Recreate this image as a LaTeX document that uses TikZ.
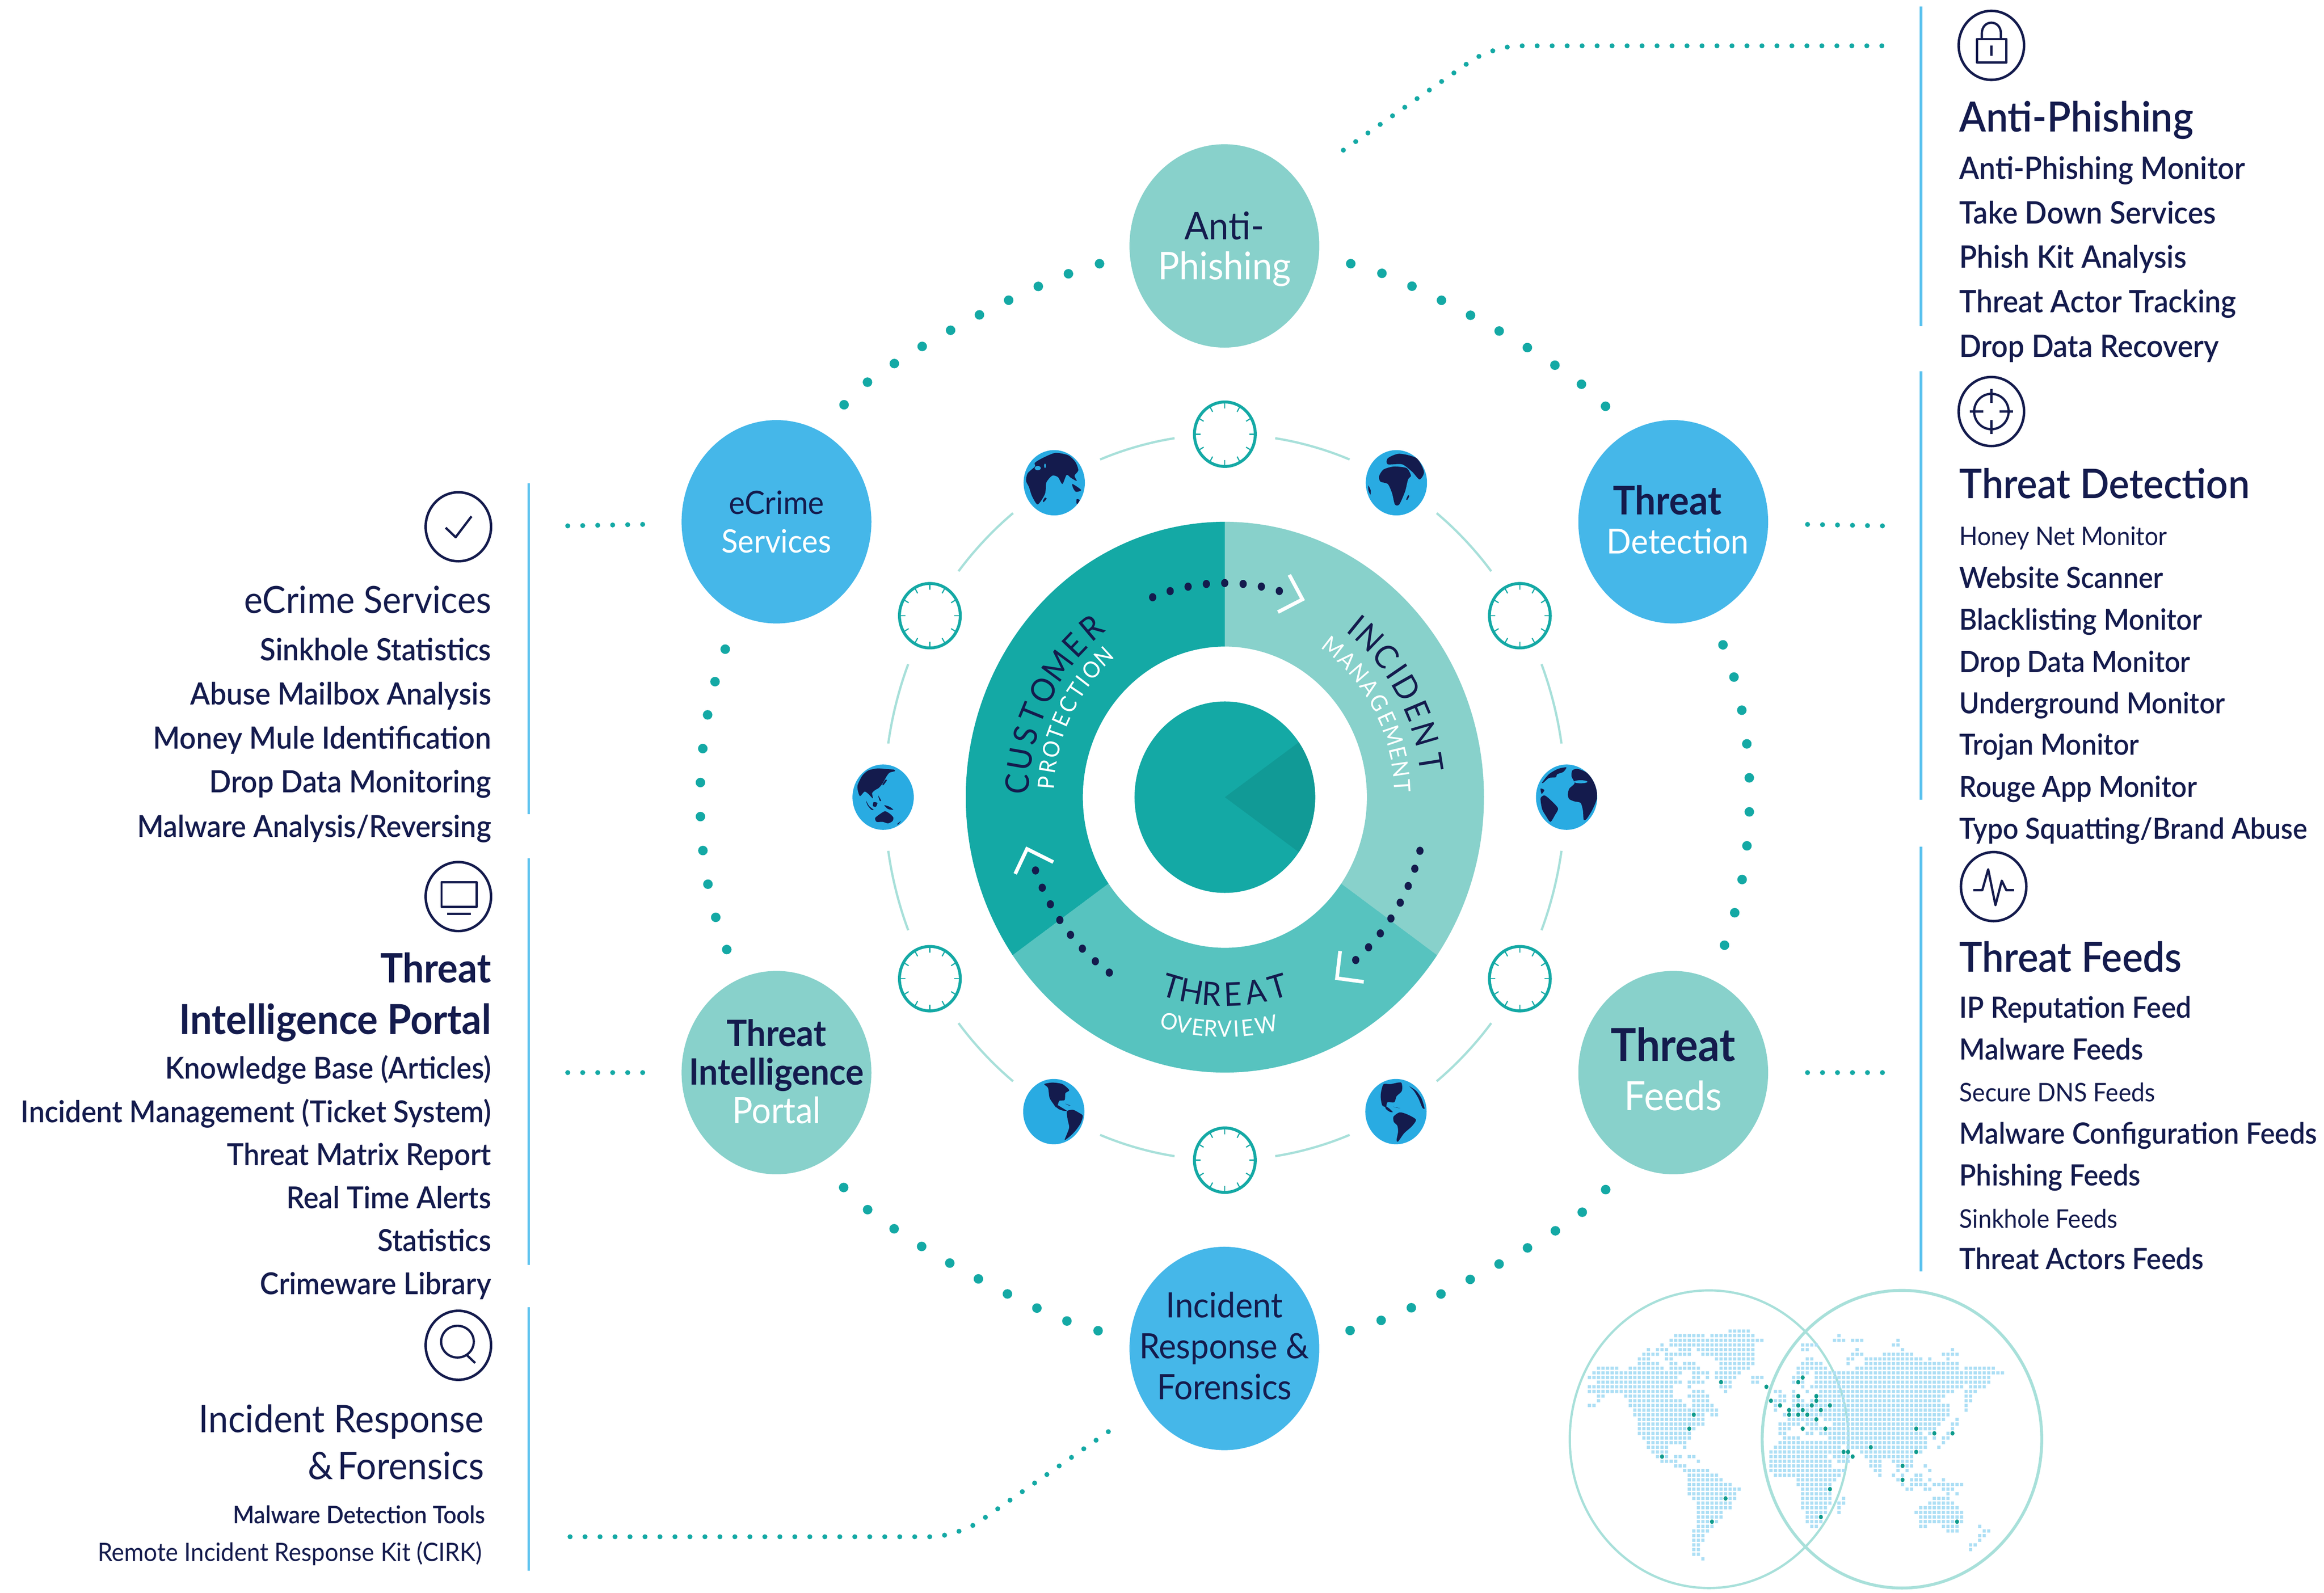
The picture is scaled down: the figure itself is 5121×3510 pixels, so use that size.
\documentclass[tikz,border=0pt]{standalone}
\usepackage{fontspec}
\setmainfont[FakeStretch=0.94,BoldFont={Lato Bold}]{Lato}
\newfontfamily\med[FakeStretch=0.94]{Lato Semibold}
\usetikzlibrary{shapes.geometric}
\definecolor{navy}{HTML}{141B4D}
\definecolor{nblue}{HTML}{45B7E9}
\definecolor{nteal}{HTML}{88D1CB}
\definecolor{segA}{HTML}{14A9A5}
\definecolor{segB}{HTML}{88D1CB}
\definecolor{segC}{HTML}{57C3BF}
\definecolor{wedge}{HTML}{119A96}
\definecolor{barblue}{HTML}{5BC2EF}
\definecolor{pale}{HTML}{A8E0DA}
\definecolor{gblue}{HTML}{29ABE2}
\definecolor{mapdot}{HTML}{ADDFF5}
\definecolor{mapdark}{HTML}{0E9B8C}
\newcommand\fpx[1]{\fontsize{\fpeval{round(#1*.2845,2)}pt}{\fpeval{round(#1*.2845*1.16,2)}pt}\selectfont}
\newcommand\fpl[2]{\fontsize{\fpeval{round(#1*.2845,2)}pt}{\fpeval{round(#2*.2845,2)}pt}\selectfont}
\newcommand\lift[1]{\rule[-#1]{0pt}{#1}}
\newcommand\globeat[3]{%
 \begin{scope}[shift={(#1,#2)}]
 \fill[gblue] (0,0) ellipse [x radius=67.5,y radius=72];
 \begin{scope}
 \clip (0,0) ellipse [x radius=67.5,y radius=72];
 \begin{scope}[xscale=.3333,yscale=.3333]
 #3
 \end{scope}
 \end{scope}
 \end{scope}}
\newcommand\landmass[1]{\fill[navy] plot[smooth cycle,tension=.45] coordinates {#1};}
\newcommand\clockat[3]{%
 \node[clockface] (#1) at (#2,#3) {};
 \foreach \t in {0,30,...,330}
   \draw[segA,line width=.025cm] ({#2+67*cos(\t)},{#3+71*sin(\t)}) -- ({#2+54*cos(\t)},{#3+57*sin(\t)});}
\tikzset{
 x=.01cm,y=-.01cm,
 mainnode/.style={ellipse,minimum width=4.18cm,minimum height=4.48cm,inner sep=-1cm,align=center,text=navy},
 clockface/.style={ellipse,draw=segA,fill=white,line width=.065cm,minimum width=1.34cm,minimum height=1.42cm,inner sep=0pt},
 iconring/.style={ellipse,draw=navy,line width=.055cm,minimum width=1.44cm,minimum height=1.52cm,inner sep=0pt},
 glyph/.style={draw=navy,line width=.05cm,line join=round},
 tl/.style={anchor=base west,inner sep=0pt,text=navy,yshift=-.03cm},
 tr/.style={anchor=base east,inner sep=0pt,text=navy,yshift=-.03cm},
 bigdots/.style={draw=segA,line width=.21cm,line cap=round,dash pattern=on 0cm off .72cm},
 sidedots/.style={draw=segA,line width=.21cm,line cap=round,dash pattern=on 0cm off .75cm},
 finedots/.style={draw=segA,line width=.11cm,line cap=round,dash pattern=on 0cm off .33cm},
 bar/.style={draw=barblue,line width=.055cm},
 chev/.style={draw=white,line width=.08cm,line join=miter},
 thinarc/.style={draw=pale,line width=.05cm},
 ringbig/.style={inner sep=0pt,text=navy,font=\fpx{72}},
 ringsmall/.style={inner sep=0pt,text=white,font=\fpx{50}},
}
\begin{document}
\begin{tikzpicture}
\path[use as bounding box,fill=white] (0,0) rectangle (5121,3510);
\def\cx{2699}\def\cy{1757}
% ring segments
\fill[segB] plot[domain=270:395,samples=90] ({\cx+571*cos(\x)},{\cy+607*sin(\x)}) -- plot[domain=395:270,samples=90] ({\cx+313*cos(\x)},{\cy+332*sin(\x)}) -- cycle;
\fill[segC] plot[domain=35:145,samples=90] ({\cx+571*cos(\x)},{\cy+607*sin(\x)}) -- plot[domain=145:35,samples=90] ({\cx+313*cos(\x)},{\cy+332*sin(\x)}) -- cycle;
\fill[segA] plot[domain=145:270,samples=90] ({\cx+571*cos(\x)},{\cy+607*sin(\x)}) -- plot[domain=270:145,samples=90] ({\cx+313*cos(\x)},{\cy+332*sin(\x)}) -- cycle;
\fill[segA] (\cx,\cy) ellipse [x radius=199,y radius=211];
\fill[wedge] (\cx,\cy) -- plot[domain=-35:35,samples=30] ({\cx+199*cos(\x)},{\cy+211*sin(\x)}) -- cycle;
% curved words
\foreach \c/\a [count=\i] in {C/183.5,U/190,S/196.3,T/202.3,O/209,M/216.5,E/223.5,R/230}
  \node[ringbig,rotate=270-\a] (cust\i) at ({\cx+458*cos(\a)},{\cy+487*sin(\a)}) {\c};
\foreach \c/\a [count=\i] in {P/184.3,R/189.3,O/194.6,T/199.6,E/204,C/209,T/214,I/217.6,O/222,N/227.5}
  \node[ringsmall,rotate=270-\a] (prot\i) at ({\cx+395*cos(\a)},{\cy+420*sin(\a)}) {\c};
\foreach \c/\a [count=\i] in {I/309,N/314,C/320.5,I/325.5,D/330.5,E/337,N/343.5,T/351}
  \node[ringbig,rotate=270-\a] (inci\i) at ({\cx+460*cos(\a)},{\cy+489*sin(\a)}) {\c};
\foreach \c/\a [count=\i] in {M/307.5,A/313.5,N/319,A/324.5,G/330,E/335.5,M/341,E/346.5,N/351.5,T/356.5}
  \node[ringsmall,rotate=270-\a] (mana\i) at ({\cx+392*cos(\a)},{\cy+417*sin(\a)}) {\c};
\foreach \c/\a [count=\i] in {T/106.5,H/100.3,R/94,E/87.5,A/80.5,T/73.5}
  \node[ringbig,rotate=90-\a] (thre\i) at ({\cx+410*cos(\a)},{\cy+435*sin(\a)}) {\c};
\foreach \c/\a [count=\i] in {O/104.8,V/100.8,E/97,R/93.7,V/90,I/87,E/84,W/79}
  \node[ringsmall,rotate=90-\a] (over\i) at ({\cx+480*cos(\a)},{\cy+511*sin(\a)}) {\c};
% dotted arcs in ring
\foreach \st in {249,254.24,...,286} \fill[navy] ({\cx+444*cos(\st)},{\cy+472*sin(\st)}) ellipse [x radius=8,y radius=9];
\foreach \st in {14.5,19.5,...,50} \fill[navy] ({\cx+444*cos(\st)},{\cy+472*sin(\st)}) ellipse [x radius=8,y radius=9];
\foreach \st in {125,130,...,160.5} \fill[navy] ({\cx+444*cos(\st)},{\cy+472*sin(\st)}) ellipse [x radius=8,y radius=9];
\draw[chev] (\cx+142,\cy-490) -- (\cx+171,\cy-436) -- (\cx+117,\cy-408);
\draw[chev] (\cx+254,\cy+339) -- (\cx+247,\cy+399) -- (\cx+306,\cy+407);
\draw[chev] (\cx-378,\cy+143) -- (\cx-436,\cy+114) -- (\cx-462,\cy+169);
% thin arcs
\foreach \k in {0,30,...,330}
  \draw[thinarc] plot[domain=\k+8.5:\k+21.5,samples=12] ({\cx+750*cos(\x)},{\cy+800*sin(\x)});
% clocks
\clockat{ck1}{2699}{957}
\clockat{ck2}{3349}{1357}
\clockat{ck3}{3349}{2157}
\clockat{ck4}{2699}{2557}
\clockat{ck5}{2049}{2157}
\clockat{ck6}{2049}{1357}
% globes
\globeat{2323}{1064}{% Eurasia + Africa
 \landmass{(-186,-12) (-176,-62) (-128,-107) (-128,-132) (-80,-162) (6,-197) (92,-182) (140,-137) (159,-82) (134,-47) (149,-12) (111,-32) (82,-52) (54,8) (25,-37) (-13,-47) (-52,-2) (-61,73) (-109,143) (-147,88) (-167,28)}
 \landmass{(121,8) (178,48) (144,60) (125,35)}
 \landmass{(149,108) (168,115) (155,140) (147,135)}
 \landmass{(-61,98) (-50,105) (-70,128) (-75,120)}
 \fill[gblue] (-109,-97) ellipse [x radius=20,y radius=14];
 \fill[gblue] (-61,-112) ellipse [x radius=6,y radius=15];}
\globeat{3077}{1064}{% Africa + Europe
 \landmass{(-115,-42) (-86,-87) (-19,-107) (67,-97) (96,-47) (77,-22) (57,58) (19,143) (-10,143) (-29,68) (-57,8) (-105,-7)}
 \landmass{(-57,-162) (19,-192) (134,-162) (182,-72) (153,-22) (105,-72) (38,-122) (-57,-122)}
 \landmass{(77,83) (85,88) (72,113) (65,110)}
 \landmass{(-186,18) (-170,50) (-172,78) (-185,50)}}
\globeat{1946}{1757}{% Asia + Australia
 \landmass{(-168,-82) (-138,-142) (-98,-177) (-38,-190) (12,-187) (72,-182) (77,-172) (42,-162) (22,-137) (-3,-92) (-28,-62) (-53,-47) (-73,-27) (-68,8) (-98,-22) (-123,-37) (-153,-7) (-168,-47)}
 \landmass{(17,-117) (24,-110) (2,-80) (-5,-84)}
 \landmass{(-113,23) (-93,58) (-63,83) (-78,83) (-103,53)}
 \landmass{(-63,33) (-38,38) (-48,63) (-68,58)}
 \landmass{(-33,-12) (-13,23) (-23,23)}
 \landmass{(7,53) (42,63) (67,83) (32,78)}
 \landmass{(-53,138) (-23,113) (12,93) (42,108) (67,133) (62,158) (32,173) (-3,163) (-43,163)}
 \landmass{(92,178) (117,158) (100,180)}}
\globeat{3452}{1757}{% Atlantic
 \landmass{(-162,-97) (-117,-152) (-57,-187) (-2,-197) (-22,-167) (-62,-152) (-72,-132) (-117,-127) (-152,-97)}
 \landmass{(-172,-57) (-165,-22) (-147,-47)}
 \landmass{(-172,8) (-147,-12) (-112,13) (-57,73) (-77,118) (-107,163) (-137,123) (-162,78)}
 \landmass{(33,-137) (38,-177) (73,-187) (133,-162) (193,-92) (203,-2) (173,78) (133,143) (113,148) (108,88) (93,38) (53,28) (18,13) (8,-17) (18,-57) (53,-92)}
 \fill[gblue] (93,-102) ellipse [x radius=45,y radius=10];}
\globeat{2322}{2450}{% Americas
 \landmass{(-63,-182) (-8,-192) (57,-182) (102,-142) (77,-122) (72,-77) (37,-72) (29,-52) (17,-27) (-3,-52) (-28,-92) (-38,-157)}
 \landmass{(7,-42) (27,-42) (52,-27) (87,-5) (67,-5) (32,-17)}
 \landmass{(87,-2) (127,-12) (167,8) (192,28) (177,78) (142,128) (107,163) (72,188) (87,148) (102,103) (92,53)}
 \landmass{(77,-52) (112,-39) (97,-42)}}
\globeat{3076}{2450}{% Americas + Europe edge
 \landmass{(-81,-182) (-36,-182) (34,-192) (39,-137) (4,-102) (-11,-62) (-56,-62) (-66,-32) (-91,-42) (-101,-97) (-96,-142)}
 \landmass{(-71,-37) (-46,-22) (-21,3) (-41,1) (-66,-17)}
 \landmass{(-16,33) (24,5) (74,18) (132,53) (104,98) (54,143) (14,198) (4,188) (14,133) (9,93) (-14,68)}
 \landmass{(89,-167) (134,-137) (169,-87) (189,-22) (174,-27) (149,-87) (119,-137)}
 \landmass{(-16,-32) (29,-22) (5,-26)}}
% main nodes
\node[mainnode,fill=nteal,font=\fpl{84}{88}] (anti) at (2698,542) {\rule{0pt}{.76cm}Anti-\\\textcolor{white}{Phishing}};
\node[mainnode,fill=nblue,font=\fpl{71}{85}] (ecrime) at (1711,1150) {eCrime\\\textcolor{white}{Services}};
\node[mainnode,fill=nblue,font=\fpl{76}{86}] (tdet) at (3687,1150) {{\fpx{87}\bfseries Threat}\hspace*{.26cm}\\\hspace*{.2cm}\textcolor{white}{Detection}\lift{.1cm}};
\node[mainnode,fill=nteal,font=\fpl{80}{85}] (tint) at (1711,2364) {{\bfseries Threat}\\{\bfseries Intelligence}\\\textcolor{white}{Portal}\lift{.06cm}};
\node[mainnode,fill=nteal,font=\fpl{89}{108}] (tfeeds) at (3687,2364) {{\fpx{100}\bfseries Threat}\\\textcolor{white}{Feeds}\lift{.16cm}};
\node[mainnode,fill=nblue,font=\fpl{77}{90}] (incident) at (2698,2972) {Incident\\Response \&\\Forensics\lift{.12cm}};
% big dotted connectors
\draw[bigdots,shorten <=.77cm,shorten >=.55cm] (ecrime) to[out=60,in=188,looseness=.55] (anti);
\draw[bigdots,shorten <=.71cm,shorten >=.55cm] (anti) to[out=-8,in=120,looseness=.55] (tdet);
\draw[sidedots,shorten <=.7cm,shorten >=.55cm] (tdet) to[out=-68,in=68,looseness=.9] (tfeeds);
\draw[bigdots,shorten <=.77cm,shorten >=.55cm] (tfeeds) to[out=-120,in=8,looseness=.55] (incident);
\draw[bigdots,shorten <=.71cm,shorten >=.55cm] (incident) to[out=172,in=-60,looseness=.55] (tint);
\draw[sidedots,shorten <=.7cm,shorten >=.55cm] (tint) to[out=112,in=-112,looseness=.9] (ecrime);
% fine dotted connectors
\coordinate (lec) at (1251,1159);
\coordinate (lti) at (1251,2364);
\coordinate (rtd) at (4148,1159);
\coordinate (rtf) at (4148,2364);
\coordinate (apc) at (3289,101);
\coordinate (ape) at (4155,101);
\coordinate (irc) at (2110,3387);
\coordinate (ire) at (1244,3387);
\draw[finedots,shorten >=.8cm] (lec) -- (ecrime);
\draw[finedots,shorten >=.8cm] (lti) -- (tint);
\draw[finedots,shorten >=.8cm] (rtd) -- (tdet);
\draw[finedots,shorten >=.8cm] (rtf) -- (tfeeds);
\draw[finedots,shorten <=1.21cm,rounded corners=.6cm] (anti.41) -- (apc) -- (ape);
\draw[finedots,shorten <=1cm,rounded corners=.6cm] (incident.216) -- (irc) -- (ire);
% bars
\draw[bar] (4233,14) -- (4233,719);
\draw[bar] (4233,818) -- (4233,1763);
\draw[bar] (4233,1866) -- (4233,2802);
\draw[bar] (1165,1065) -- (1165,1794);
\draw[bar] (1165,1892) -- (1165,2788);
\draw[bar] (1165,2881) -- (1165,3462);
% right column
\node[iconring] (iLock) at (4388,100) {};
\draw[glyph] (4356,86) rectangle (4421,138);
\draw[glyph] (4367,86) -- (4367,74) .. controls (4367,42) and (4409,42) .. (4409,74) -- (4409,86);
\draw[glyph] (4388,100) -- (4388,123);
\node[iconring] (iCross) at (4388,907) {};
\draw[glyph] (4388,907) ellipse [x radius=38,y radius=39];
\draw[glyph] (4388,857) -- (4388,888) (4388,926) -- (4388,957) (4340,907) -- (4370,907) (4406,907) -- (4436,907);
\node[iconring] (iPulse) at (4393,1954) {};
\draw[glyph] (4348,1962) -- (4368,1962) -- (4381,1916) -- (4397,1995) -- (4411,1941) -- (4421,1962) -- (4438,1962);
\node[tl,font=\fpx{91.5}\med] (h1) at (4317,287) {Anti-Phishing};
\foreach \t/\y [count=\i] in {Anti-Phishing Monitor/392,Take Down Services/490,Phish Kit Analysis/587,Threat Actor Tracking/686,Drop Data Recovery/784}
  \node[tl,font=\fpx{68}\med] (a\i) at (4317,\y) {\t};
\node[tl,font=\fpx{90}\med] (h2) at (4317,1095) {Threat Detection};
\node[tl,font=\fpx{56.5}] (b0) at (4317,1199) {Honey Net Monitor};
\foreach \t/\y [count=\i] in {Website Scanner/1293,Blacklisting Monitor/1385,Drop Data Monitor/1478,Underground Monitor/1570,Trojan Monitor/1661,Rouge App Monitor/1754}
  \node[tl,font=\fpx{64}\med] (b\i) at (4317,\y) {\t};
\node[tl,font=\fpx{64}\med] (b7) at (4317,1846) {Typo Squatting/Brand Abuse};
\node[tl,font=\fpx{91}\med] (h3) at (4317,2139) {Threat Feeds};
\node[tl,font=\fpx{64.5}\med] (c1) at (4317,2240) {IP Reputation Feed};
\node[tl,font=\fpx{64.5}\med] (c2) at (4317,2333) {Malware Feeds};
\node[tl,font=\fpx{56.5}] (c3) at (4317,2425) {Secure DNS Feeds};
\node[tl,font=\fpx{64.5}\med] (c4) at (4317,2518) {Malware Configuration Feeds};
\node[tl,font=\fpx{64.5}\med] (c5) at (4317,2610) {Phishing Feeds};
\node[tl,font=\fpx{56.5}] (c6) at (4317,2703) {Sinkhole Feeds};
\node[tl,font=\fpx{64.5}\med] (c7) at (4317,2795) {Threat Actors Feeds};
% left column
\node[iconring] (iCheck) at (1010,1161) {};
\draw[glyph] (982,1163) -- (1004,1184) -- (1039,1138);
\node[iconring] (iMon) at (1010,1976) {};
\draw[glyph] (973,1944) rectangle (1050,1999);
\draw[glyph] (985,2014) -- (1037,2014);
\node[iconring] (iSearch) at (1010,2965) {};
\draw[glyph] (1008,2957) ellipse [x radius=36,y radius=35];
\draw[glyph] (1027,2985) -- (1047,3004);
\node[tr,font=\fpx{82.5}] (l0) at (1083,1348) {eCrime Services};
\foreach \t/\y [count=\i] in {Sinkhole Statistics/1453,Abuse Mailbox Analysis/1550,Money Mule Identification/1647,Drop Data Monitoring/1744}
  \node[tr,font=\fpx{67.5}\med] (e\i) at (1083,\y) {\t};
\node[tr,font=\fpx{66.5}\med] (e5) at (1083,1842) {Malware Analysis/Reversing};
\node[tr,font=\fpx{89}\bfseries] (l1) at (1083,2163) {Threat};
\node[tr,font=\fpx{91}\bfseries] (l2) at (1083,2276) {Intelligence Portal};
\foreach \t/\y [count=\i] in {Knowledge Base (Articles)/2375,Incident Management (Ticket System)/2471,Threat Matrix Report/2565,Real Time Alerts/2660,Statistics/2755,Crimeware Library/2850}
  \node[tr,font=\fpx{66.5}\med] (f\i) at (1083,\y) {\t};
\node[tr,font=\fpx{83.5}] (l3) at (1067,3154) {Incident Response};
\node[tr,font=\fpx{83.5}] (l4) at (1067,3258) {\&\hspace{.12em}Forensics};
\node[tr,font=\fpx{53.5}\med] (l5) at (1070,3355) {Malware Detection Tools};
\node[tr,font=\fpx{55.7}] (l6) at (1063,3438) {Remote Incident Response Kit (CIRK)};
% world map
\draw[pale,line width=.05cm] (3766,3172) ellipse [x radius=307,y radius=328];
\draw[pale,line width=.065cm] (4191,3172) ellipse [x radius=308,y radius=328];
\fill[mapdot] \foreach \r/\L in {
-6/{31/35},
-5/{19/25,27/36,55/55},
-4/{18/25,26/38,54/56,58/60,68/68},
-3/{16/16,18/23,24/36,47/50,67/68},
-2/{13/13,15/17,20/22,24/36,47/48,59/59,69/69,80/80},
-1/{12/15,17/22,25/36,58/60,65/71,78/81},
0/{11/13,17/18,28/36,48/49,57/58,61/73,75/75,79/79},
1/{11/15,18/19,21/23,29/36,47/51,57/57,61/81},
2/{2/6,9/16,18/24,29/35,46/52,59/81,83/89},
3/{1/20,23/26,28/33,46/48,50/91},
4/{0/19,23/24,26/26,28/32,36/38,45/47,50/88},
5/{2/20,22/25,29/31,36/37,45/47,50/88},
6/{0/18,22/22,29/31,47/47,49/82,84/87},
7/{0/18,23/25,30/30,41/42,45/45,48/48,51/80,83/85},
8/{2/3,8/18,22/26,42/43,45/46,50/78,83/84},
9/{2/2,9/20,23/26,40/43,45/47,49/77,83/84},
10/{0/1,9/21,23/27,41/42,45/49,50/53,53/79,83/83},
11/{10/28,41/41,44/79,83/83},
12/{10/25,27/28,43/79},
13/{11/25,44/50,52/78,81/81},
14/{11/25,42/46,48/50,54/77,80/81},
15/{11/23,42/44,47/47,49/76,80/80},
16/{11/22,42/43,48/49,51/73,75/76,79/80},
17/{12/22,43/46,53/74,76/76,78/79},
18/{13/21,42/74,78/78},
19/{13/17,21/21,41/55,57/74,77/77},
20/{14/17,40/55,56/57,60/73},
21/{15/17,19/20,22/23,40/52,54/58,61/71},
22/{16/19,24/24,40/53,55/57,62/64,67/71},
23/{19/21,40/53,62/64,68/71,74/74},
24/{21/26,40/56,63/64,68/68,70/70,75/75},
25/{22/28,41/55,64/64,67/67,69/69,72/73},
26/{22/29,46/54,68/69,71/73,75/75,78/78},
27/{22/31,46/53,69/69,71/74,76/82},
28/{22/33,47/53,70/71,74/75,78/80},
29/{22/32,47/53,79/79,81/81},
30/{23/32,47/53,56/56,76/79},
31/{24/31,47/53,55/56,75/80},
32/{24/31,47/52,55/55,73/81},
33/{24/29,48/52,55/55,72/82},
34/{24/29,48/51,73/82},
35/{24/28,48/51,73/82},
36/{24/27,49/50,73/74,78/81,86/86},
37/{23/26,79/81,87/88},
38/{23/25,86/87},
39/{23/25,86/86},
40/{23/24,84/85},
41/{23/24,84/84},
42/{23/24},
43/{25/25}}
 { \foreach \a/\b in \L { \foreach \k in {\a,...,\b} { ({3502.3+10*\k-3.5},{2995+10.25*\r-3.5}) rectangle ++(7,7) } } };
\fill[mapdark] \foreach \k/\r in {29/5,39/6,23/12,22/15,16/21,30/30,27/35,47/4,46/5,46/8,50/8,40/9,50/9,42/10,46/10,49/10,53/10,44/11,47/11,51/11,44/12,46/12,48/12,50/13,47/15,52/15,72/15,76/16,80/16,62/19,56/20,57/20,72/20,58/21,69/23,69/26,53/28,51/34,81/35}
 { ({3502.3+10*\k},{2995+10.25*\r}) ellipse [x radius=4.5,y radius=5] };
\end{tikzpicture}
\end{document}
